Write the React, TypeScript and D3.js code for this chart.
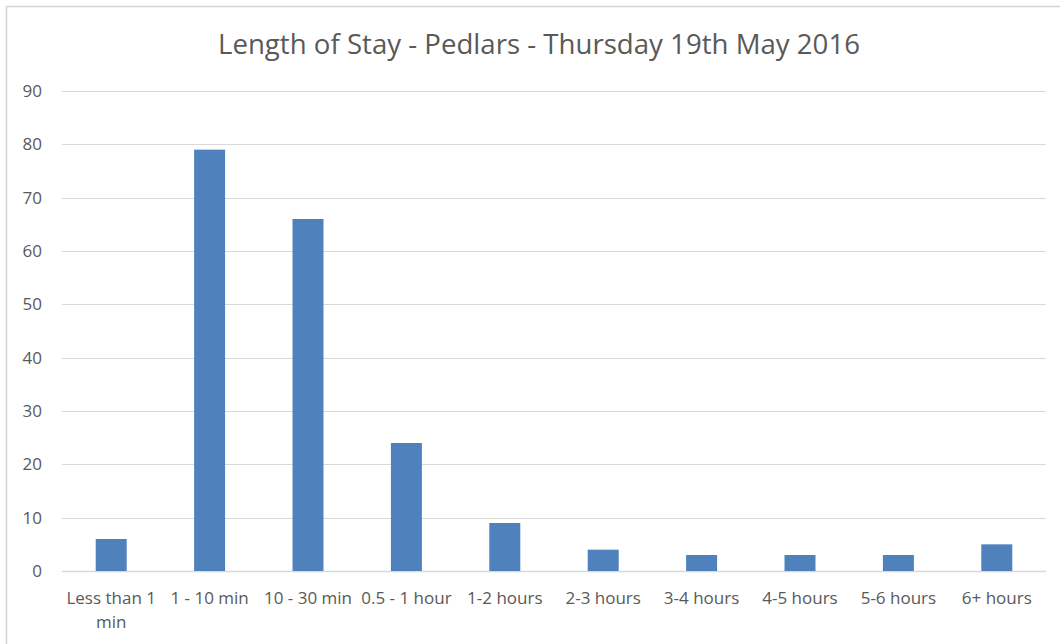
import React, { useRef, useEffect } from "react";
import * as d3 from "d3";

const categories = [
  "Less than 1 min",
  "1 - 10 min",
  "10 - 30 min",
  "0.5 - 1 hour",
  "1-2 hours",
  "2-3 hours",
  "3-4 hours",
  "4-5 hours",
  "5-6 hours",
  "6+ hours",
];
const values = [6, 79, 66, 24, 9, 4, 3, 3, 3, 5];
const yTicks = [0, 10, 20, 30, 40, 50, 60, 70, 80, 90];
const title = "Length of Stay - Pedlars - Thursday 19th May 2016";

const W = 1060;
const H = 644;
const MARGIN = { top: 91, right: 14, bottom: 73, left: 62 };
const FONT = "'Open Sans', sans-serif";
const TEXT = "#595959";

export default function App() {
  const ref = useRef<SVGSVGElement>(null);

  useEffect(() => {
    const svg = d3.select(ref.current);
    svg.selectAll("*").remove();

    const innerW = W - MARGIN.left - MARGIN.right;
    const innerH = H - MARGIN.top - MARGIN.bottom;

    // chart frame (right and bottom edges run off the picture)
    svg
      .append("rect")
      .attr("x", 6.5)
      .attr("y", 6.5)
      .attr("width", W)
      .attr("height", H)
      .attr("fill", "#fff")
      .attr("stroke", "#d4d4d4")
      .attr("stroke-width", 1.5);

    svg
      .append("text")
      .attr("x", 539)
      .attr("y", 54)
      .attr("text-anchor", "middle")
      .attr("font-family", FONT)
      .attr("font-size", 27)
      .attr("fill", TEXT)
      .attr("textLength", 642)
      .attr("lengthAdjust", "spacingAndGlyphs")
      .text(title);

    const g = svg
      .append("g")
      .attr("transform", `translate(${MARGIN.left},${MARGIN.top})`);

    const x = d3
      .scaleBand()
      .domain(categories)
      .range([0, innerW])
      .paddingInner(0.685)
      .paddingOuter(0.3425);
    const y = d3.scaleLinear().domain([0, 90]).range([innerH, 0]);

    g.selectAll(".grid")
      .data(yTicks)
      .join("line")
      .attr("x1", 0)
      .attr("x2", innerW)
      .attr("y1", (d) => Math.round(y(d)) + 0.5)
      .attr("y2", (d) => Math.round(y(d)) + 0.5)
      .attr("stroke", "#d9d9d9")
      .attr("stroke-width", (d) => (d === 0 ? 1.5 : 1));

    g.selectAll(".ylab")
      .data(yTicks)
      .join("text")
      .attr("x", -20)
      .attr("y", (d) => y(d))
      .attr("dy", "0.35em")
      .attr("text-anchor", "end")
      .attr("font-family", FONT)
      .attr("font-size", 17)
      .attr("fill", TEXT)
      .text((d) => d);

    g.selectAll(".bar")
      .data(values)
      .join("rect")
      .attr("x", (d, i) => x(categories[i])!)
      .attr("y", (d) => y(d))
      .attr("width", x.bandwidth())
      .attr("height", (d) => innerH - y(d))
      .attr("fill", "#4f81bd");

    const xl = g
      .selectAll(".xlab")
      .data(categories)
      .join("text")
      .attr("text-anchor", "middle")
      .attr("font-family", FONT)
      .attr("font-size", 17)
      .attr("fill", TEXT)
      .attr("transform", (d) => `translate(${x(d)! + x.bandwidth() / 2},${innerH + 33})`);

    xl.each(function (d) {
      const t = d3.select(this);
      const lines = d === "Less than 1 min" ? ["Less than 1", "min"] : [d];
      lines.forEach((l, k) => {
        t.append("tspan").attr("x", 0).attr("y", k * 24).text(l);
      });
    });
  }, []);

  return (
    <svg
      ref={ref}
      width={W}
      height={H}
      style={{ display: "block", position: "absolute", left: 0, top: 0 }}
    />
  );
}
